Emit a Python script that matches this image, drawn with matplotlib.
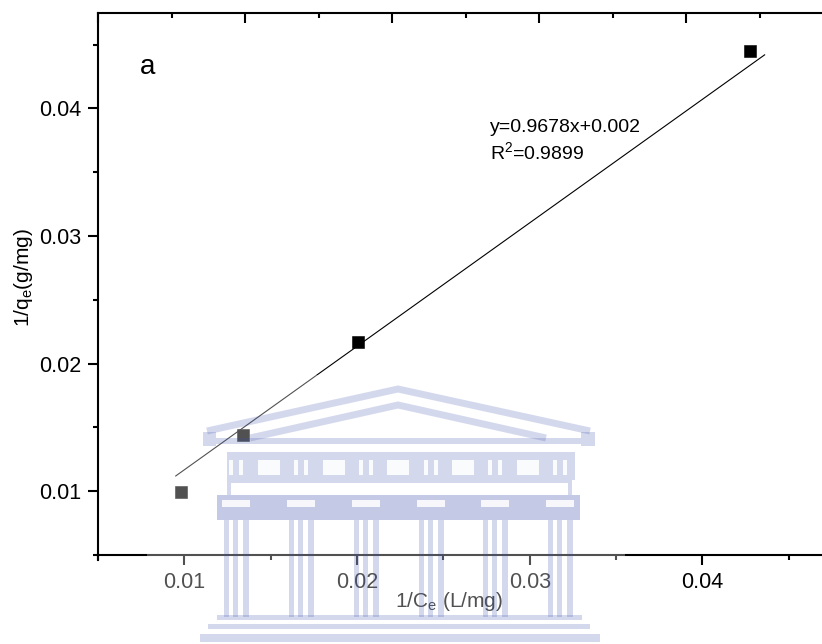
import matplotlib
matplotlib.use("Agg")
import matplotlib.pyplot as plt
from matplotlib.ticker import MultipleLocator, FixedLocator
from matplotlib.patches import Rectangle

plt.rcParams["font.family"] = ["Liberation Sans", "DejaVu Sans"]
plt.rcParams["mathtext.fontset"] = "custom"
plt.rcParams["mathtext.rm"] = "Liberation Sans"
plt.rcParams["mathtext.it"] = "Liberation Sans"
plt.rcParams["mathtext.default"] = "rm"

# Langmuir linearisation: 1/qe versus 1/Ce
inv_ce = [0.0098, 0.01342, 0.02005, 0.04278]
inv_qe = [0.0099, 0.01439, 0.02172, 0.04447]

# linear fit reported on the plot
slope = 0.9678
intercept = 0.002
r_squared = 0.9899
fit_x = [0.0095, 0.0436]

x_ticks = [0.01, 0.02, 0.03, 0.04]
y_ticks = [0.01, 0.02, 0.03, 0.04]
tick_labels = ["0.01", "0.02", "0.03", "0.04"]

W, H = 822, 644
fig = plt.figure(figsize=(W / 100, H / 100), dpi=100)

left_px, top_px, bottom_px = 98, 13, 555
ax = fig.add_axes([left_px / W, (H - bottom_px) / H,
                   (W - left_px) / W, (bottom_px - top_px) / H])
ax.set_xlim(0.005, 0.005 + (W - left_px) / 17270)
ax.set_ylim(0.005, 0.005 + (bottom_px - top_px) / 12760)

ax.plot(inv_ce, inv_qe, linestyle="none", marker="s", markersize=8.5,
        color="black", markeredgewidth=0.4, zorder=3)
fit_y = [slope * x + intercept for x in fit_x]
ax.plot(fit_x, fit_y, color="black", linewidth=0.8, zorder=2)

for side in ("left", "bottom", "top"):
    ax.spines[side].set_linewidth(1.5)
ax.spines["right"].set_visible(False)
ax.spines["left"].set_bounds(0.005 - 5 / 12760, ax.get_ylim()[1])

ax.xaxis.set_major_locator(FixedLocator(x_ticks))
ax.yaxis.set_major_locator(FixedLocator(y_ticks))
ax.set_xticklabels(tick_labels)
ax.set_yticklabels(tick_labels)
ax.xaxis.set_minor_locator(MultipleLocator(0.005))
ax.yaxis.set_minor_locator(MultipleLocator(0.005))
ax.tick_params(which="major", direction="out", length=7, width=1.5,
               labelsize=15.5, pad=5, top=False, right=False)
ax.tick_params(which="minor", direction="out", length=3.5, width=1.5,
               top=False, right=False)

# top axis with its own inward ticks and no labels
top = ax.twiny()
top.set_xlim(0, (W - left_px) / 147.1)
top.xaxis.set_major_locator(MultipleLocator(1))
top.xaxis.set_minor_locator(MultipleLocator(0.5))
top.tick_params(which="major", direction="in", length=7, width=1.5,
                labeltop=False)
top.tick_params(which="minor", direction="in", length=3.5, width=1.5)
for s in top.spines.values():
    s.set_visible(False)

ax.set_xlabel(r"1/C$_e$ (L/mg)", fontsize=15)
ax.xaxis.set_label_coords((449 - left_px) / (W - left_px),
                          -(590 - bottom_px) / (bottom_px - top_px))
ax.set_ylabel(r"1/q$_e$(g/mg)", fontsize=15)
ax.yaxis.set_label_coords((35 - left_px) / (W - left_px), 0.511)

ax.text(0.058, 0.8875, "a", transform=ax.transAxes, fontsize=20,
        ha="left", va="baseline")
ax.text(0.5414, 0.7804, f"y={slope}x+{intercept}", transform=ax.transAxes,
        fontsize=14, ha="left", va="baseline")
ax.text(0.5414, 0.7306, r"R$^2$=" + f"{r_squared}", transform=ax.transAxes,
        fontsize=14, ha="left", va="baseline")

# faint building emblem laid over the lower part of the figure
wm = fig.add_axes([0, 0, 1, 1], zorder=5)
wm.set_xlim(0, W)
wm.set_ylim(H, 0)
wm.axis("off")
wm.patch.set_alpha(0)

tint = "#3c50aa"
soft = 0.22


def block(x0, x1, y0, y1, color=tint, alpha=soft):
    wm.add_patch(Rectangle((x0, y0), x1 - x0, y1 - y0, facecolor=color,
                           edgecolor="none", alpha=alpha))


block(147, 625, 375, H, color="white", alpha=0.32)

# pediment
wm.plot([207, 398, 590], [431, 389, 431], color=tint, alpha=soft,
        linewidth=5, solid_joinstyle="miter", solid_capstyle="butt")
wm.plot([250, 398, 546], [438, 405, 438], color=tint, alpha=soft,
        linewidth=5, solid_joinstyle="miter", solid_capstyle="butt")
block(203, 216, 432, 446)
block(581, 595, 432, 446)
block(216, 581, 438, 444)

# frieze with metopes and triglyphs
block(227, 575, 452, 480)
for x0 in (258, 323, 387, 452, 517):
    block(x0, x0 + 22, 460, 475, color="white", alpha=0.9)
for c in (236, 301, 366, 431, 495, 560):
    block(c - 7, c - 3, 460, 475, color="white", alpha=0.9)
    block(c + 3, c + 7, 460, 475, color="white", alpha=0.9)

# architrave outline
block(227, 572, 480, 483)
block(227, 231, 483, 495)
block(568, 572, 483, 495)

# capital band
block(217, 580, 495, 520, alpha=0.3)

# columns with fluting
for c in (236, 301, 366, 431, 495, 560):
    block(c - 14, c + 14, 500, 507, color="white", alpha=0.85)
    block(c - 12.5, c - 7.5, 520, 617)
    block(c - 3, c + 2, 520, 617)
    block(c + 6.5, c + 12.5, 520, 617)

# steps
block(217, 582, 615, 620)
block(208, 590, 624, 629)
block(200, 600, 634, 642)

fig.savefig("out.png", dpi=100)
